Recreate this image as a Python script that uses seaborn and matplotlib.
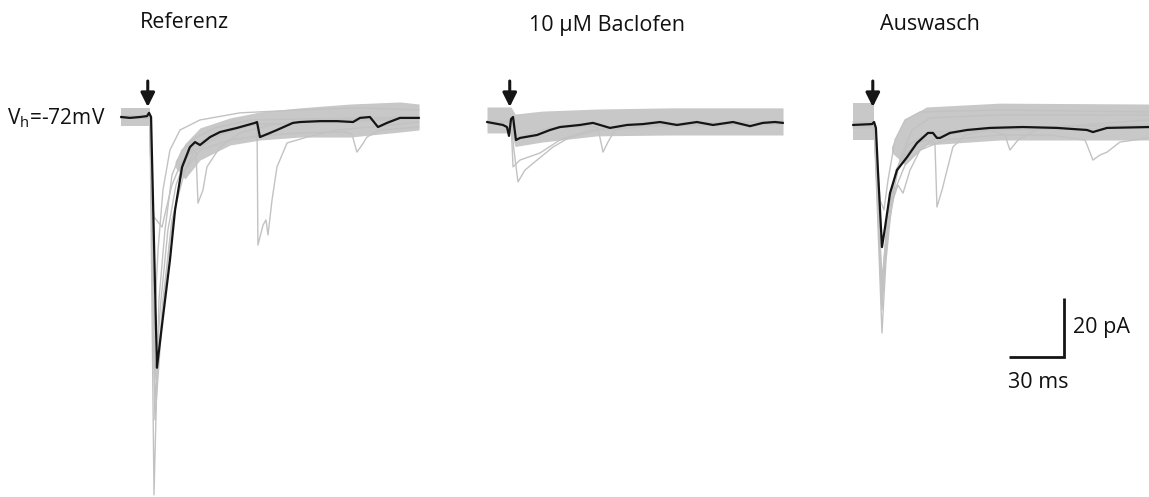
import matplotlib
matplotlib.use("Agg")
import matplotlib.pyplot as plt
import seaborn as sns
import pandas as pd
import numpy as np

sns.set_theme(style="white")
plt.rcParams['font.family'] = ['Open Sans', 'DejaVu Sans']

# ---------------- data (time in ms from trace start, current in pA) -------------
titles = ["Referenz", "10 µM Baclofen", "Auswasch"]
holding_label = "V$_{\\mathregular{h}}$=-72mV"
stim_t = [15.8, 13.6, 12.0]

# Panel 1 : Referenz
p1_mean_t = [0, 4.9, 10.4, 14.2, 15.3, 16.4, 19.6, 22.9, 26.7, 29.5, 33.3, 37.6, 40.4, 43.1, 48.6, 54.0,
             63.3, 73.1, 74.2, 75.8, 81.3, 85.1, 93.8, 97.7, 108.6, 117.8, 126.6, 130.4, 135.8, 140.2,
             145.1, 152.2, 162.6]
p1_mean_i = [0, -0.3, 0, 0.3, 1.4, 0, -85.0, -67.8, -48.5, -31.5, -17.0, -10.2, -8.5, -9.5, -6.8, -5.1,
             -3.7, -2.0, -1.7, -6.8, -5.4, -4.4, -2.0, -1.7, -1.4, -1.4, -1.7, -0.3, 0, -3.4,
             -2.0, -0.3, -0.3]
p1_sweeps_t = [
    [0, 15.8, 18.0, 20.7, 24.0, 27.8, 33.3, 40.4, 51.3, 70.4, 162.6],
    [0, 15.8, 18.5, 21.8, 25.6, 30.0, 34.9, 39.3, 40.9, 42.0, 44.7, 46.9, 54.0, 64.9, 81.3, 108.6, 162.6],
    [0, 15.8, 16.9, 18.0, 20.2, 22.4, 24.5, 27.8, 32.2, 40.4, 54.0, 75.8, 162.6],
    [0, 15.8, 18.5, 22.4, 26.7, 32.2, 40.4, 54.0, 70.4, 74.2, 74.7, 77.5, 79.1, 80.2, 82.4, 85.1, 90.6,
     101.5, 117.8, 141.3, 162.6],
    [0, 15.8, 18.5, 22.9, 27.8, 34.9, 43.1, 59.5, 75.8, 97.6, 122.2, 126.0, 128.7, 131.5, 134.2, 141.3, 162.6],
    [0, 15.8, 18.0, 20.2, 22.9, 26.7, 32.2, 43.1, 64.9, 97.6, 130.4, 162.6],
]
p1_sweeps_i = [
    [0, 0, -128.1, -62.0, -38.3, -19.7, -11.2, -7.1, -3.7, -1.0, 0],
    [0, 0, -89.2, -62.0, -38.3, -23.1, -14.6, -11.2, -11.9, -29.2, -24.8, -16.9, -10.2, -5.4, -2.7, -1.0, -0.3],
    [0.3, 0.3, -28.1, -33.9, -35.6, -37.3, -31.5, -23.1, -16.3, -9.5, -5.1, -2.4, -0.7],
    [-0.3, -0.3, -102.7, -68.8, -41.7, -21.4, -11.2, -6.1, -2.7, -1.4, -43.4, -36.6, -34.9, -40.0, -28.1,
     -16.9, -8.8, -6.8, -4.4, -3.1, -1.7],
    [-0.3, -0.3, -95.9, -62.0, -34.9, -18.0, -11.2, -7.8, -6.4, -5.4, -5.1, -5.8, -11.9, -9.5, -6.8, -4.4, -3.4],
    [0.3, 0.3, -72.2, -45.1, -24.7, -11.2, -4.4, -1.0, 1.4, 2.4, 3.1, 2.4],
]
p1_band_pre_t = [0, 15.8]
p1_band_pre_hi = [3.0, 3.0]
p1_band_pre_lo = [-3.0, -3.0]
p1_band_post_t = [29.5, 34.9, 43.1, 59.5, 75.8, 97.6, 124.9, 152.2, 162.6]
p1_band_post_hi = [-15.0, -9.0, -3.7, -0.3, 1.7, 3.1, 4.4, 5.1, 4.4]
p1_band_post_lo = [-17.0, -21.0, -14.6, -9.5, -7.8, -6.8, -6.8, -5.1, -4.4]

# Panel 2 : 10 µM Baclofen
p2_mean_t = [0, 8.7, 10.9, 12.0, 13.1, 14.2, 15.8, 18.0, 27.3, 34.4, 39.8, 50.7, 57.8, 67.1, 76.4, 85.1,
             94.4, 103.6, 114.5, 123.3, 134.2, 143.5, 150.5, 157.1, 161.5]
p2_mean_i = [-1.7, -2.7, -3.4, -6.4, -0.7, 0, -7.8, -7.1, -6.1, -4.4, -3.4, -2.7, -2.0, -3.7, -2.7, -2.4,
             -1.7, -2.7, -1.7, -2.7, -1.7, -3.1, -2.0, -1.7, -2.0]
p2_sweeps_t = [
    [0, 13.1, 14.7, 16.9, 20.7, 27.3, 36.0, 45.3, 61.6, 88.9, 161.5],
    [0, 13.1, 14.2, 18.0, 28.9, 39.8, 56.2, 88.9, 161.5],
    [0, 13.1, 15.3, 20.7, 34.4, 56.2, 60.5, 63.3, 66.0, 69.8, 88.9, 161.5],
]
p2_sweeps_i = [
    [-1.7, -1.7, -11.2, -22.0, -18.0, -14.6, -10.2, -6.8, -4.4, -3.1, -2.4],
    [-1.7, -1.7, -16.9, -14.6, -12.2, -7.8, -4.4, -2.7, -1.7],
    [-1.4, -1.4, -7.8, -6.1, -3.7, -3.1, -3.7, -11.9, -8.5, -4.4, -2.4, -1.4],
]
p2_band_t = [0, 13.1, 15.3, 30.0, 60.0, 100.0, 161.5]
p2_band_hi = [3.4, 3.4, 1.0, 2.0, 2.7, 3.1, 3.1]
p2_band_lo = [-5.4, -5.4, -10.0, -8.5, -6.4, -6.1, -6.1]

# Panel 3 : Auswasch
p3_mean_t = [0, 10.4, 11.5, 12.5, 13.6, 15.8, 17.5, 20.2, 24.0, 29.5, 34.9, 40.9, 43.6, 45.8, 47.5, 52.9,
             62.2, 74.7, 92.7, 111.3, 127.6, 130.9, 138.6, 161.5]
p3_mean_i = [-2.7, -2.4, -1.7, -3.7, -18.0, -44.1, -37.3, -25.8, -18.0, -13.6, -8.8, -5.4, -5.4, -7.1, -7.1,
             -5.4, -4.4, -3.7, -3.4, -3.7, -4.4, -5.1, -3.7, -3.4]
p3_sweeps_t = [
    [0, 11.5, 13.1, 15.8, 18.0, 21.3, 25.6, 32.2, 42.0, 80.2, 161.5],
    [0, 11.5, 13.1, 14.7, 16.9, 19.1, 22.9, 28.4, 36.6, 80.2, 161.5],
    [0, 11.5, 13.6, 15.8, 18.5, 21.8, 24.5, 27.3, 31.1, 36.6, 47.5, 69.3, 161.5],
    [0, 11.5, 13.6, 15.8, 18.5, 22.9, 28.4, 33.8, 39.3, 44.7, 45.8, 48.6, 51.3, 54.5, 61.1, 80.2, 161.5],
    [0, 11.5, 13.6, 15.8, 19.1, 22.9, 28.4, 36.6, 50.2, 80.2, 107.5, 126.6, 130.9, 134.7, 138.6, 145.6, 161.5],
    [0, 11.5, 13.6, 15.8, 19.1, 23.5, 30.0, 42.0, 74.7, 82.9, 85.6, 90.0, 102.0, 161.5],
]
p3_sweeps_i = [
    [-2.4, -2.4, -28.1, -73.2, -48.5, -28.1, -14.6, -4.4, -0.3, 0.7, 0.7],
    [-1.7, -1.7, -14.6, -28.1, -31.5, -21.4, -7.8, -1.0, 1.7, 2.4, 1.7],
    [-3.1, -3.1, -28.1, -55.3, -38.3, -28.1, -23.1, -25.8, -18.0, -11.2, -6.1, -4.4, -3.7],
    [-2.7, -2.7, -24.7, -58.6, -34.9, -19.7, -12.9, -9.5, -7.8, -8.8, -30.5, -24.7, -18.0, -10.2, -6.1, -3.7, -2.7],
    [-3.7, -3.7, -28.1, -62.0, -38.3, -24.7, -16.3, -11.2, -7.8, -6.1, -6.1, -7.8, -14.6, -12.9, -11.9, -8.5, -7.1],
    [-2.4, -2.4, -31.5, -65.4, -34.9, -18.0, -9.5, -5.1, -4.4, -6.1, -11.2, -7.8, -3.7, -1.0],
]
p3_band_pre_t = [0, 11.5]
p3_band_pre_hi = [4.7, 4.7]
p3_band_pre_lo = [-7.8, -7.8]
p3_band_post_t = [21.0, 28.0, 40.0, 80.0, 161.5]
p3_band_post_hi = [-10.0, -1.0, 3.4, 4.7, 4.4]
p3_band_post_lo = [-12.0, -16.0, -9.5, -7.8, -7.8]

scale_t_ms = 30
scale_i_pa = 20

# ---------------- layout --------------------------------------------------------
W, H = 1149, 497
PX_PER_MS = 1.833
PX_PER_PA = 2.95
BASE_PX = 117
panel_left_px = [121, 487, 853]
offsets = [x / PX_PER_MS for x in panel_left_px]

fig = plt.figure(figsize=(W / 100, H / 100), dpi=100)
ax = fig.add_axes([0, 0, 1, 1])
ax.set_xlim(0, W / PX_PER_MS)
ax.set_ylim(-(H - BASE_PX) / PX_PER_PA, BASE_PX / PX_PER_PA)
ax.axis("off")

GRAY = "#c2c2c2"
BAND = "#c8c8c8"
BLACK = "#151515"

panels = [
    dict(mean_t=p1_mean_t, mean_i=p1_mean_i, st=p1_sweeps_t, si=p1_sweeps_i,
         bands=[(p1_band_pre_t, p1_band_pre_lo, p1_band_pre_hi), (p1_band_post_t, p1_band_post_lo, p1_band_post_hi)]),
    dict(mean_t=p2_mean_t, mean_i=p2_mean_i, st=p2_sweeps_t, si=p2_sweeps_i,
         bands=[(p2_band_t, p2_band_lo, p2_band_hi)]),
    dict(mean_t=p3_mean_t, mean_i=p3_mean_i, st=p3_sweeps_t, si=p3_sweeps_i,
         bands=[(p3_band_pre_t, p3_band_pre_lo, p3_band_pre_hi), (p3_band_post_t, p3_band_post_lo, p3_band_post_hi)]),
]

for k, p in enumerate(panels):
    off = offsets[k]
    for bt, blo, bhi in p["bands"]:
        ax.fill_between(np.array(bt) + off, blo, bhi, color=BAND, lw=0, zorder=1)
    rows = []
    for s, (tt, ii) in enumerate(zip(p["st"], p["si"])):
        for a, b in zip(tt, ii):
            rows.append(dict(t=a + off, i=b, sweep=s))
    df = pd.DataFrame(rows)
    sns.lineplot(data=df, x="t", y="i", units="sweep", estimator=None, color=GRAY,
                 lw=1.0, ax=ax, zorder=2, legend=False)
    dm = pd.DataFrame(dict(t=np.array(p["mean_t"]) + off, i=p["mean_i"]))
    sns.lineplot(data=dm, x="t", y="i", color=BLACK, lw=1.6, ax=ax, zorder=3, legend=False)
    # stimulus arrow
    xa = off + stim_t[k] - 1.2
    ax.annotate("", xy=(xa, 3.4), xytext=(xa, 12.2),
                arrowprops=dict(arrowstyle="-|>,head_width=0.35,head_length=0.7", color=BLACK, lw=2.2,
                                shrinkA=0, shrinkB=0), zorder=4)

ax.set_xlabel("")
ax.set_ylabel("")
ax.axis("off")

# scale bar
sx0 = 1009 / PX_PER_MS
sy0 = -(357 - BASE_PX) / PX_PER_PA
ax.plot([sx0, sx0 + scale_t_ms, sx0 + scale_t_ms], [sy0, sy0, sy0 + scale_i_pa], color=BLACK, lw=2.0,
        solid_joinstyle="miter", solid_capstyle="butt")

def ft(x, y, s, **kw):
    fig.text(x / W, 1 - y / H, s, va="center", ha="left", color="#111111", **kw)

ft(1073, 328, f"{scale_i_pa} pA", fontsize=15.5)
ft(1008, 382, f"{scale_t_ms} ms", fontsize=15.5)
ft(140, 23, titles[0], fontsize=15.5)
ft(529, 25, titles[1], fontsize=15.5)
ft(880, 25, titles[2], fontsize=15.5)
ft(7, 118, holding_label, fontsize=15)

fig.savefig("out.png", dpi=100, facecolor="white")
